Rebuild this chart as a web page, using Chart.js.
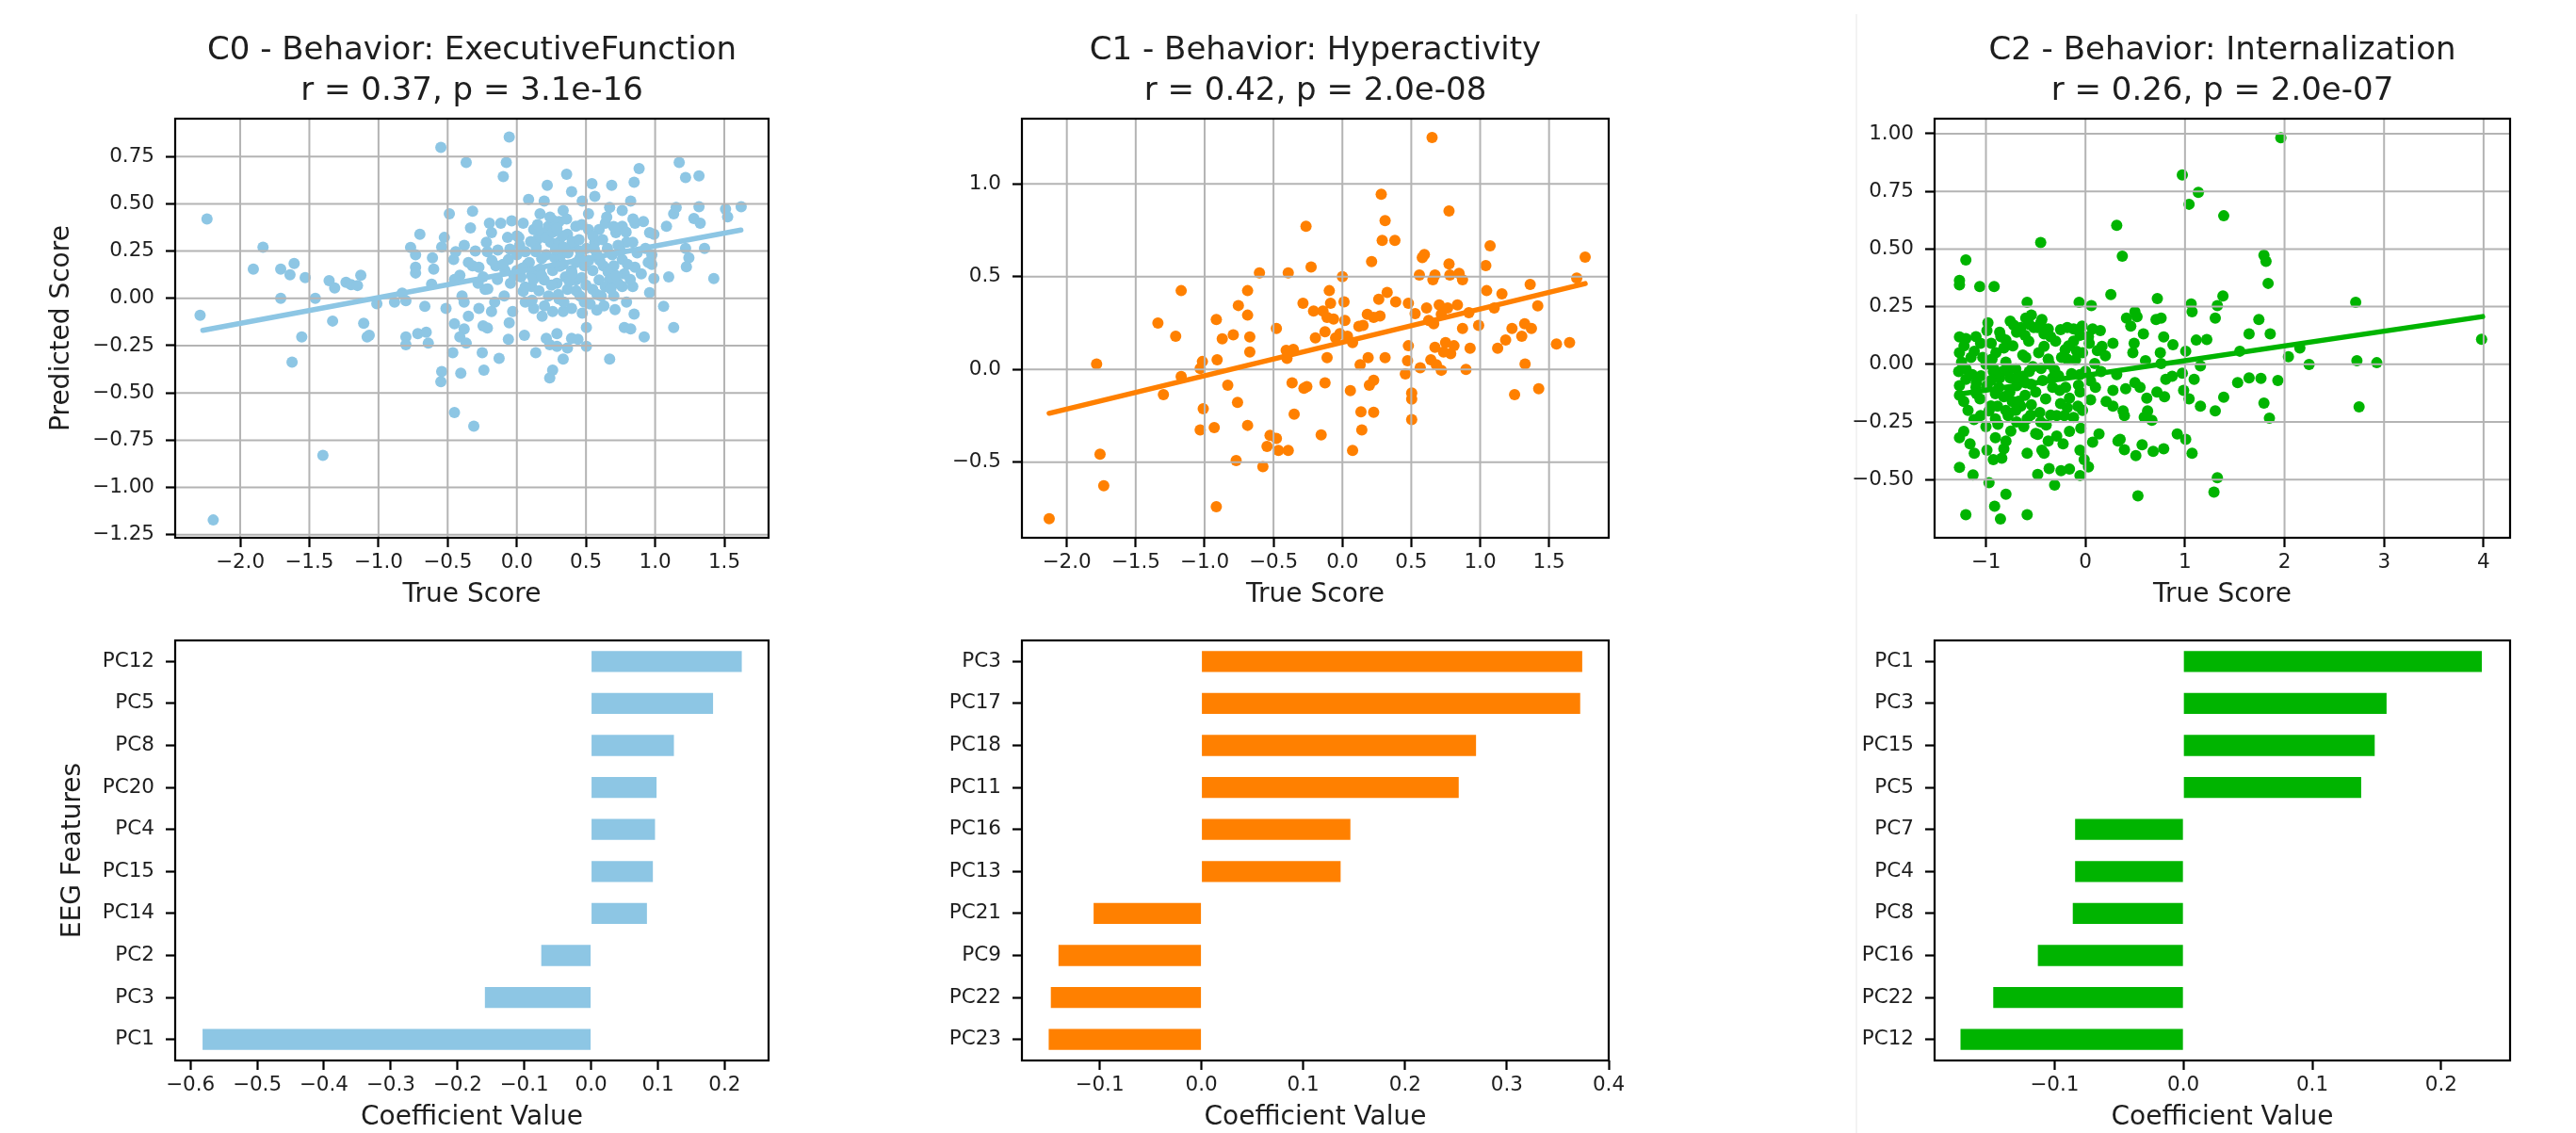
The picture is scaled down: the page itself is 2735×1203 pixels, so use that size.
<!DOCTYPE html>
<html>
<head>
<meta charset="utf-8">
<script src="https://cdn.jsdelivr.net/npm/chart.js@4.4.1/dist/chart.umd.min.js"></script>
<style>
  html, body { margin: 0; padding: 0; background: #fff; }
  body { width: 2735px; height: 1203px; position: relative; overflow: hidden; }
  canvas { position: absolute; }
  #divider { position: absolute; left: 1970px; top: 15px; width: 2px; height: 1188px; background: #f3f3f3; }
</style>
</head>
<body>
<div id="divider"></div>
<canvas id="s0"></canvas>
<canvas id="s1"></canvas>
<canvas id="s2"></canvas>
<canvas id="b0"></canvas>
<canvas id="b1"></canvas>
<canvas id="b2"></canvas>
<script>
// ---- data ----
const c0Title = ["C0 - Behavior: ExecutiveFunction", "r = 0.37, p = 3.1e-16"];
const c1Title = ["C1 - Behavior: Hyperactivity", "r = 0.42, p = 2.0e-08"];
const c2Title = ["C2 - Behavior: Internalization", "r = 0.26, p = 2.0e-07"];

// [true score, predicted score]
const c0Points = [[-2.24,0.42],[-2.29,-0.09],[-1.835,0.27],[-1.905,0.155],[-1.707,0.155],[-1.61,0.185],[-1.64,0.125],[-1.53,0.11],[-1.707,0.0],[-1.457,0.0],[-1.357,0.093],[-1.317,0.055],[-1.235,0.085],[-1.198,0.072],[-1.128,0.122],[-1.152,0.068],[-1.332,-0.12],[-1.555,-0.204],[-1.625,-0.337],[-1.402,-0.83],[-2.195,-1.172],[-1.107,-0.132],[-1.082,-0.204],[-1.067,-0.195],[-1.012,-0.028],[-0.884,-0.02],[-0.829,0.027],[-0.802,-0.012],[-0.802,-0.204],[-0.802,-0.245],[-0.716,-0.187],[-0.655,-0.179],[-0.64,-0.237],[-0.665,-0.042],[-0.768,0.269],[-0.732,0.23],[-0.732,0.164],[-0.732,0.134],[-0.701,0.339],[-0.61,0.214],[-0.601,0.155],[-0.616,0.075],[-0.524,0.322],[-0.543,0.272],[-0.512,-0.053],[-0.488,0.447],[-0.457,0.205],[-0.442,0.247],[-0.412,0.122],[-0.396,0.013],[-0.381,-0.02],[-0.451,-0.134],[-0.381,-0.162],[-0.412,-0.204],[-0.366,-0.237],[-0.35,-0.095],[-0.463,-0.287],[-0.543,-0.387],[-0.549,-0.44],[-0.405,-0.396],[-0.451,-0.604],[-0.311,-0.676],[-0.549,0.798],[-0.366,0.718],[-0.32,0.461],[-0.335,0.372],[-0.274,0.164],[-0.32,0.172],[-0.244,0.114],[-0.229,0.047],[-0.274,-0.053],[-0.183,-0.07],[-0.244,-0.145],[-0.213,-0.157],[-0.25,-0.287],[-0.238,-0.379],[-0.128,-0.317],[-0.198,0.397],[-0.183,0.347],[-0.22,0.297],[-0.213,0.247],[-0.152,0.172],[-0.137,0.255],[-0.116,0.397],[-0.098,0.644],[-0.076,0.718],[-0.055,0.853],[-0.037,0.41],[-0.067,0.322],[-0.061,0.205],[-0.085,0.147],[-0.046,0.08],[-0.091,0.013],[-0.03,-0.07],[-0.055,-0.129],[-0.061,-0.217],[0.055,-0.195],[0.137,-0.287],[0.085,0.523],[0.046,0.397],[0.015,0.322],[0.061,0.247],[0.076,0.18],[0.03,0.114],[0.107,0.063],[0.061,-0.02],[0.122,-0.053],[0.183,-0.095],[0.168,0.447],[0.198,0.514],[0.22,0.598],[0.229,0.381],[0.152,0.314],[0.244,0.297],[0.213,0.23],[0.274,0.214],[0.259,0.147],[0.198,0.097],[0.29,0.08],[0.229,0.013],[0.305,-0.003],[0.259,-0.07],[0.335,-0.07],[0.213,-0.212],[0.238,-0.245],[0.29,-0.187],[0.29,-0.254],[0.259,-0.379],[0.238,-0.421],[0.335,-0.321],[0.366,-0.262],[0.396,-0.212],[0.442,-0.217],[0.503,-0.254],[0.503,-0.154],[0.36,0.656],[0.396,0.564],[0.335,0.464],[0.305,0.406],[0.366,0.339],[0.412,0.28],[0.335,0.18],[0.396,0.147],[0.457,0.214],[0.427,0.097],[0.366,0.047],[0.457,0.013],[0.396,-0.053],[0.473,-0.078],[0.488,-0.02],[0.473,0.514],[0.543,0.606],[0.564,0.539],[0.518,0.447],[0.518,0.364],[0.564,0.297],[0.595,0.364],[0.579,0.23],[0.549,0.147],[0.595,0.097],[0.549,0.047],[0.61,0.013],[0.579,-0.062],[0.671,-0.321],[0.686,0.598],[0.671,0.481],[0.64,0.397],[0.716,0.347],[0.655,0.264],[0.701,0.172],[0.671,0.097],[0.701,0.013],[0.762,0.464],[0.762,0.381],[0.793,0.297],[0.762,0.205],[0.777,0.13],[0.762,0.063],[0.793,-0.02],[0.777,-0.154],[0.823,-0.162],[0.848,-0.083],[0.848,0.614],[0.884,0.686],[0.823,0.514],[0.854,0.397],[0.915,0.406],[0.838,0.297],[0.854,0.164],[0.838,0.063],[0.921,-0.204],[0.96,0.347],[0.991,0.339],[0.976,0.23],[0.976,0.18],[0.991,0.105],[0.96,0.03],[1.061,-0.042],[1.134,-0.154],[1.098,0.114],[1.082,0.381],[1.134,0.447],[1.152,0.481],[1.174,0.718],[1.22,0.639],[1.317,0.648],[1.317,0.484],[1.28,0.422],[1.326,0.397],[1.22,0.264],[1.244,0.214],[1.226,0.167],[1.357,0.264],[1.424,0.105],[1.509,0.472],[1.524,0.431],[1.622,0.484],[0.122,0.364],[0.183,0.347],[0.137,0.247],[0.168,0.155],[0.107,0.122],[0.305,0.297],[0.32,0.23],[0.351,0.114],[0.503,0.264],[0.488,0.172],[0.625,0.172],[0.64,0.063],[0.732,0.08],[0.732,0.28],[0.93,0.264],[0.427,0.381],[0.259,0.414],[0.0,0.23],[0.0,0.147],[0.046,0.038],[0.0,0.33],
  [0.02,0.28],[0.09,0.19],[0.14,0.27],[0.18,0.21],[0.21,0.32],[0.26,0.35],[0.28,0.26],[0.31,0.17],[0.33,0.33],[0.37,0.24],[0.4,0.3],[0.43,0.19],[0.45,0.31],[0.47,0.11],[0.52,0.2],[0.56,0.26],[0.6,0.2],[0.62,0.31],[0.66,0.14],[0.69,0.23],[0.72,0.12],[0.75,0.25],[0.8,0.18],[0.82,0.1],[0.87,0.24],[0.9,0.13],[0.06,0.06],[0.11,-0.01],[0.16,0.04],[0.2,-0.04],[0.25,0.07],[0.3,0.02],[0.34,-0.02],[0.38,0.09],[0.43,0.04],[0.5,0.07],[0.53,-0.03],[0.58,0.02],[0.63,-0.04],[0.68,0.05],[0.71,-0.06],[-0.05,0.26],[-0.1,0.18],[-0.14,0.1],[-0.18,0.2],[-0.21,0.05],[-0.16,-0.02],[-0.02,0.12],[0.04,0.16],[0.1,0.3],[0.15,0.39],[0.24,0.43],[0.29,0.37],[0.36,0.42],[0.47,0.39],[0.55,0.33],[0.65,0.43],[0.7,0.38],[0.79,0.35],[0.84,0.42],[0.95,0.19],[0.12,0.1],[0.18,0.12],[0.34,0.27],[0.4,0.13],[0.46,0.25],[-0.3,0.25],[-0.35,0.19],[-0.28,0.08],[-0.45,0.1],[-0.38,0.28]];
const c0FitX = [-2.27, 1.62];
const c0FitY = [-0.169, 0.361];

const c1Points = [[-2.128,-0.805],[-1.784,0.029],[-1.759,-0.458],[-1.732,-0.627],[-1.339,0.249],[-1.21,0.178],[-1.17,0.424],[-1.17,-0.039],[-1.299,-0.136],[-1.016,0.042],[-1.032,0.005],[-1.01,-0.212],[-1.032,-0.327],[-0.93,-0.314],[-0.915,0.268],[-0.909,0.051],[-0.915,-0.741],[-0.872,0.164],[-0.832,-0.085],[-0.792,0.186],[-0.755,0.344],[-0.761,-0.178],[-0.771,-0.492],[-0.688,0.424],[-0.688,0.292],[-0.672,0.175],[-0.672,0.093],[-0.688,-0.302],[-0.602,0.52],[-0.577,-0.525],[-0.547,-0.415],[-0.525,-0.356],[-0.479,-0.373],[-0.479,0.22],[-0.464,-0.437],[-0.393,-0.437],[-0.393,0.52],[-0.408,0.102],[-0.402,0.059],[-0.356,0.107],[-0.365,-0.073],[-0.35,-0.242],[-0.279,-0.102],[-0.258,-0.093],[-0.286,0.356],[-0.264,0.771],[-0.227,0.551],[-0.209,0.314],[-0.196,0.169],[-0.154,-0.353],[-0.141,0.314],[-0.126,0.203],[-0.126,-0.073],[-0.111,0.063],[-0.095,0.424],[-0.086,0.356],[-0.111,0.28],[-0.064,0.271],[-0.049,0.169],[-0.018,0.192],[0.0,0.5],[0.012,0.364],[0.018,0.263],[0.037,0.178],[0.058,-0.115],[0.074,-0.437],[0.074,0.144],[0.12,0.232],[0.129,0.025],[0.135,-0.229],[0.141,-0.327],[0.15,0.237],[0.181,0.297],[0.187,0.063],[0.196,-0.085],[0.212,0.581],[0.227,0.28],[0.227,-0.059],[0.227,-0.232],[0.264,0.378],[0.273,0.288],[0.282,0.944],[0.289,0.695],[0.31,0.802],[0.325,0.415],[0.31,0.063],[0.381,0.695],[0.387,0.364],[0.457,-0.025],[0.479,0.356],[0.479,0.127],[0.473,0.046],[0.503,-0.127],[0.503,-0.161],[0.503,-0.271],[0.528,0.3],[0.559,0.508],[0.565,0.008],[0.58,0.602],[0.595,0.619],[0.611,0.331],[0.626,0.263],[0.642,0.051],[0.651,1.249],[0.657,0.483],[0.672,0.508],[0.663,0.246],[0.672,0.119],[0.682,0.025],[0.703,0.347],[0.718,0.297],[0.718,-0.005],[0.734,0.093],[0.749,0.144],[0.764,0.331],[0.774,0.568],[0.774,0.853],[0.78,0.508],[0.786,0.085],[0.81,0.127],[0.835,0.347],[0.847,0.517],[0.872,0.483],[0.872,0.22],[0.897,0.0],[0.927,0.114],[0.918,0.305],[0.989,0.237],[1.041,0.559],[1.047,0.424],[1.072,0.666],[1.102,0.331],[1.127,0.114],[1.158,0.407],[1.185,0.158],[1.231,0.22],[1.25,-0.136],[1.302,0.178],[1.323,0.246],[1.326,0.029],[1.363,0.458],[1.372,0.22],[1.418,0.342],[1.425,-0.105],[1.554,0.136],[1.649,0.144],[1.701,0.492],[1.762,0.605]];
const c1FitX = [-2.128, 1.762];
const c1FitY = [-0.237, 0.462];

const c2Points = [[1.963,0.982],[0.973,0.821],[1.134,0.746],[1.041,0.694],[1.389,0.644],[0.314,0.603],[-0.45,0.528],[0.37,0.469],[1.793,0.473],[1.814,0.446],[1.835,0.351],[-1.202,0.453],[-1.266,0.364],[-1.266,0.344],[-1.062,0.337],[-0.918,0.337],[-0.586,0.269],[-0.064,0.269],[0.059,0.255],[0.255,0.303],[0.722,0.285],[1.381,0.296],[1.062,0.262],[1.071,0.228],[1.325,0.255],[1.304,0.2],[2.715,0.269],[1.742,0.194],[1.644,0.132],[1.856,0.132],[1.551,0.057],[2.039,0.033],[2.154,0.071],[2.247,-0.001],[2.727,0.016],[2.927,0.007],[3.98,0.109],[2.749,-0.184],[1.529,-0.079],[1.644,-0.059],[1.763,-0.061],[1.933,-0.07],[1.793,-0.168],[1.848,-0.233],[1.389,-0.143],[1.304,-0.202],[1.155,-0.181],[1.041,-0.15],[0.986,-0.113],[1.092,-0.065],[1.155,-0.007],[1.219,0.108],[1.113,0.105],[1.007,0.057],[0.973,-0.038],[1.325,-0.492],[1.291,-0.554],[1.071,-0.386],[1.007,-0.325],[0.922,-0.302],[0.786,-0.366],[0.68,-0.377],[0.569,-0.349],[0.506,-0.396],[0.527,-0.57],[0.391,-0.37],[0.348,-0.325],[0.327,-0.332],[0.391,-0.222],[0.378,-0.202],[0.276,-0.181],[0.208,-0.161],[0.276,-0.113],[0.314,-0.045],[0.404,-0.106],[0.497,-0.079],[0.548,-0.1],[0.616,-0.147],[0.624,-0.202],[0.59,-0.229],[0.667,-0.243],[0.718,-0.12],[0.794,-0.141],[0.807,-0.065],[0.871,-0.052],[0.76,0.003],[0.752,0.05],[0.786,0.119],[0.879,0.085],[0.709,0.194],[0.76,0.2],[0.582,0.132],[0.489,0.091],[0.412,0.2],[0.455,0.166],[0.518,0.207],[0.497,0.228],[0.476,0.05],[0.603,0.016],[0.276,0.091],[0.2,0.037],[0.166,0.078],[0.072,0.153],[0.149,0.146],[-0.034,0.166],[-0.119,0.153],[-0.183,0.16],[-0.055,0.126],[0.038,0.091],[-0.089,0.057],[-0.183,0.023],[-0.204,0.064],[0.093,0.003],[0.157,-0.031],[0.051,-0.072],[-0.055,-0.045],[-0.055,-0.12],[0.051,-0.154],[-0.076,-0.181],[-0.183,-0.188],[-0.212,-0.222],[-0.289,-0.222],[-0.161,-0.147],[-0.259,-0.113],[-0.331,-0.059],[-0.31,-0.025],[-0.446,-0.018],[-0.374,0.023],[-0.416,0.078],[-0.416,0.132],[-0.48,0.16],[-0.374,0.153],[-0.438,0.194],[-0.544,0.214],[-0.565,0.173],[-0.608,0.126],[-0.65,0.16],[-0.756,0.187],[-0.692,0.139],[-0.799,0.105],[-0.862,0.139],[-0.82,0.071],[-0.947,0.091],[-0.99,0.146],[-1.054,0.091],[-1.117,0.057],[-1.032,0.03],[-0.939,0.023],[-1.266,0.119],[-1.202,0.112],[-1.266,0.05],[-1.245,0.01],[-1.274,-0.031],[-1.202,-0.065],[-1.266,-0.093],[-1.138,-0.045],[-1.096,-0.079],[-1.266,-0.134],[-1.223,-0.161],[-1.096,-0.127],[-0.99,-0.093],[-0.926,-0.031],[-0.862,-0.059],[-0.777,-0.018],[-0.756,-0.059],[-0.692,-0.093],[-0.629,-0.052],[-0.565,-0.031],[-0.544,-0.086],[-0.607,-0.134],[-0.544,-0.175],[-0.65,-0.181],[-0.735,-0.161],[-0.82,-0.141],[-0.905,-0.127],[-0.884,-0.181],[-0.969,-0.202],[-1.054,-0.222],[-0.905,-0.236],[-0.777,-0.222],[-0.692,-0.25],[-0.586,-0.236],[-0.459,-0.209],[-0.395,-0.263],[-0.48,-0.304],[-0.374,-0.332],[-0.289,-0.311],[-0.225,-0.345],[-0.161,-0.291],[-0.047,-0.277],[-0.055,-0.372],[0.072,-0.338],[0.136,-0.302],[-1.266,-0.318],[-1.223,-0.291],[-1.16,-0.345],[-1.117,-0.386],[-0.99,-0.372],[-0.905,-0.318],[-0.82,-0.366],[-0.799,-0.332],[-0.926,-0.413],[-0.841,-0.407],[-0.586,-0.386],[-0.438,-0.372],[-0.416,-0.386],[-1.266,-0.447],[-1.13,-0.479],[-0.969,-0.513],[-0.799,-0.563],[-0.913,-0.615],[-0.854,-0.67],[-1.202,-0.652],[-0.586,-0.652],[-0.48,-0.477],[-0.365,-0.452],[-0.31,-0.523],[-0.246,-0.461],[-0.161,-0.454],[-0.055,-0.482],[0.03,-0.445],[-0.013,-0.413],
  [-1.2,-0.02],[-1.15,0.03],[-1.1,-0.1],[-1.05,-0.05],[-1.0,0.0],[-0.95,-0.07],[-0.9,0.05],[-0.87,-0.1],[-0.83,-0.03],[-0.8,0.01],[-0.76,-0.12],[-0.73,0.08],[-0.7,-0.02],[-0.67,-0.16],[-0.63,0.04],[-0.6,-0.08],[-0.57,0.1],[-0.53,-0.01],[-0.5,-0.12],[-0.47,0.05],[-0.43,-0.07],[-0.4,-0.15],[-0.36,0.0],[-0.33,-0.1],[-0.3,0.1],[-0.27,-0.05],[-0.24,0.03],[-0.2,-0.1],[-0.17,0.08],[-0.14,-0.04],[-0.1,0.02],[-0.07,-0.09],[-0.03,0.05],[0.0,-0.03],[0.03,0.12],[0.1,-0.1],[0.12,0.06],[-1.18,-0.2],[-1.12,-0.24],[-1.0,-0.27],[-0.95,-0.18],[-0.88,-0.26],[-0.8,-0.2],[-0.75,-0.29],[-0.7,-0.2],[-0.62,-0.27],[-0.55,-0.22],[-0.5,-0.3],[-0.45,-0.25],[-0.35,-0.22],[-0.25,-0.17],[-0.12,-0.23],[-0.03,-0.2],[-1.22,0.08],[-1.1,0.12],[-0.98,0.18],[-0.85,0.12],[-0.72,0.17],[-0.6,0.2],[-0.52,0.16],[-0.45,0.18],[-0.35,0.12],[-0.25,0.15],[-0.12,0.1],[-0.6,0.03],[-0.68,-0.06],[-0.92,-0.02],[-1.06,-0.15]];
const c2FitX = [-1.27, 3.99];
const c2FitY = [-0.129, 0.207];

const c0Features = ["PC12", "PC5", "PC8", "PC20", "PC4", "PC15", "PC14", "PC2", "PC3", "PC1"];
const c0Coefs = [0.2256, 0.1826, 0.124, 0.098, 0.0957, 0.0925, 0.0836, -0.0746, -0.159, -0.5817];
const c1Features = ["PC3", "PC17", "PC18", "PC11", "PC16", "PC13", "PC21", "PC9", "PC22", "PC23"];
const c1Coefs = [0.374, 0.372, 0.2697, 0.2527, 0.1463, 0.1367, -0.1059, -0.1404, -0.1479, -0.150];
const c2Features = ["PC1", "PC3", "PC15", "PC5", "PC7", "PC4", "PC8", "PC16", "PC22", "PC12"];
const c2Coefs = [0.2315, 0.1576, 0.1484, 0.1379, -0.084, -0.084, -0.0858, -0.1129, -0.1475, -0.1729];

const c0XTicks = [-2.0, -1.5, -1.0, -0.5, 0.0, 0.5, 1.0, 1.5];
const c0YTicks = [-1.25, -1.0, -0.75, -0.5, -0.25, 0.0, 0.25, 0.5, 0.75];
const c1XTicks = [-2.0, -1.5, -1.0, -0.5, 0.0, 0.5, 1.0, 1.5];
const c1YTicks = [-0.5, 0.0, 0.5, 1.0];
const c2XTicks = [-1, 0, 1, 2, 3, 4];
const c2YTicks = [-0.5, -0.25, 0.0, 0.25, 0.5, 0.75, 1.0];
const b0Ticks = [-0.6, -0.5, -0.4, -0.3, -0.2, -0.1, 0.0, 0.1, 0.2];
const b1Ticks = [-0.1, 0.0, 0.1, 0.2, 0.3, 0.4];
const b2Ticks = [-0.1, 0.0, 0.1, 0.2];

// ---- styling ----
const INK = "#1e1e1e";
const GRID = "#b4b4b4";
const BLUE = "#8dc6e4";
const ORANGE = "#ff8000";
const GREEN = "#00b400";
const XH = 78;

Chart.defaults.font.family = "DejaVu Sans";
Chart.defaults.font.size = 21.5;
Chart.defaults.color = INK;
Chart.defaults.animation = false;

function fmt(v, dec) {
  let s = Math.abs(v).toFixed(dec);
  return (v < -1e-9 ? "\u2212" : "") + s;
}

const frame = {
  id: "frame",
  afterDraw(chart) {
    const a = chart.chartArea, ctx = chart.ctx;
    ctx.save();
    ctx.strokeStyle = "#000";
    ctx.lineWidth = 2.2;
    ctx.strokeRect(a.left, a.top, a.right - a.left, a.bottom - a.top);
    ctx.restore();
  }
};

// matplotlib puts the grid over the scatter but under the fit line
const gridOver = {
  id: "gridOver",
  afterDatasetDraw(chart, args) {
    if (args.index !== 0) return;
    const a = chart.chartArea, ctx = chart.ctx;
    const sx = chart.scales.x, sy = chart.scales.y;
    ctx.save();
    ctx.strokeStyle = GRID;
    ctx.lineWidth = 2;
    ctx.beginPath();
    sx.ticks.forEach(t => {
      const p = sx.getPixelForValue(t.value);
      ctx.moveTo(p, a.top); ctx.lineTo(p, a.bottom);
    });
    sy.ticks.forEach(t => {
      const p = sy.getPixelForValue(t.value);
      ctx.moveTo(a.left, p); ctx.lineTo(a.right, p);
    });
    ctx.stroke();
    ctx.restore();
  }
};

function tickGrid() {
  return { display: true, drawOnChartArea: false, drawTicks: true, tickLength: 10, tickWidth: 2.2, tickColor: "#000" };
}

function scatterChart(id, box, o) {
  const cv = document.getElementById(id);
  cv.width = box.yw + (box.r - box.l) + 30;
  cv.height = box.b + XH;
  cv.style.left = (box.l - box.yw) + "px";
  cv.style.top = "0px";
  new Chart(cv, {
    type: "scatter",
    data: {
      datasets: [
        { data: o.points.map(p => ({ x: p[0], y: p[1] })), backgroundColor: o.color,
          pointRadius: 6, pointBorderWidth: 0, pointHoverRadius: 6, order: 1 },
        { data: o.fitX.map((x, i) => ({ x: x, y: o.fitY[i] })), showLine: true, borderColor: o.color,
          borderWidth: 5.5, borderCapStyle: "round", pointRadius: 0, fill: false, order: 0 }
      ]
    },
    options: {
      responsive: false,
      events: [],
      layout: { padding: { left: 0, right: 30, top: 0, bottom: 0 } },
      plugins: {
        legend: { display: false },
        tooltip: { enabled: false },
        title: { display: true, text: o.title, fullSize: false, color: INK,
                 font: { size: 34, weight: "normal", lineHeight: 1.265 },
                 padding: { top: 32.5, bottom: 7.5 } }
      },
      scales: {
        x: {
          type: "linear", min: o.xr[0], max: o.xr[1],
          afterBuildTicks: s => { s.ticks = o.xTicks.map(v => ({ value: v })); },
          afterFit: s => { s.height = XH; },
          ticks: { autoSkip: false, maxRotation: 0, padding: 4, callback: v => fmt(v, o.xDec) },
          grid: tickGrid(),
          border: { display: false },
          title: { display: true, text: "True Score", font: { size: 28 }, padding: { top: 0, bottom: 0 } }
        },
        y: {
          type: "linear", min: o.yr[0], max: o.yr[1],
          afterBuildTicks: s => { s.ticks = o.yTicks.map(v => ({ value: v })); },
          afterFit: s => { s.width = box.yw; },
          ticks: { autoSkip: false, padding: 12, callback: v => fmt(v, o.yDec) },
          grid: tickGrid(),
          border: { display: false },
          title: { display: !!o.yTitle, text: o.yTitle || "", font: { size: 28 }, padding: { top: 0, bottom: 0 } }
        }
      }
    },
    plugins: [gridOver, frame]
  });
}

function barChart(id, box, o) {
  const cv = document.getElementById(id);
  cv.width = box.yw + (box.r - box.l) + 30;
  cv.height = 30 + (box.b - box.t) + XH;
  cv.style.left = (box.l - box.yw) + "px";
  cv.style.top = (box.t - 30) + "px";
  new Chart(cv, {
    type: "bar",
    data: {
      labels: o.labels,
      datasets: [{ data: o.values, backgroundColor: o.color, borderWidth: 0,
                   barPercentage: 0.5, categoryPercentage: 1.0 }]
    },
    options: {
      indexAxis: "y",
      responsive: false,
      events: [],
      layout: { padding: { left: 0, right: 30, top: 30, bottom: 0 } },
      plugins: { legend: { display: false }, tooltip: { enabled: false } },
      scales: {
        x: {
          type: "linear", min: o.xr[0], max: o.xr[1],
          afterBuildTicks: s => { s.ticks = o.ticks.map(v => ({ value: v })); },
          afterFit: s => { s.height = XH; },
          ticks: { autoSkip: false, maxRotation: 0, padding: 4, callback: v => fmt(v, 1) },
          grid: tickGrid(),
          border: { display: false },
          title: { display: true, text: "Coefficient Value", font: { size: 28 }, padding: { top: 0, bottom: 0 } }
        },
        y: {
          type: "category", offset: true,
          afterFit: s => { s.width = box.yw; },
          ticks: { autoSkip: false, padding: 12 },
          grid: Object.assign(tickGrid(), { offset: false }),
          border: { display: false },
          title: { display: !!o.yTitle, text: o.yTitle || "", font: { size: 28 }, padding: { top: o.yTitlePad || 0, bottom: 0 } }
        }
      }
    },
    plugins: [frame]
  });
}

// ---- layout (page pixels) ----
const topRow = { t: 126, b: 571 };
const botRow = { t: 680, b: 1126 };
const cols = [{ l: 186, r: 816 }, { l: 1085, r: 1708 }, { l: 2054, r: 2665 }];
const YW = 137;

scatterChart("s0", { l: cols[0].l, r: cols[0].r, b: topRow.b, yw: YW }, {
  points: c0Points, fitX: c0FitX, fitY: c0FitY, color: BLUE, title: c0Title,
  xTicks: c0XTicks, yTicks: c0YTicks, xDec: 1, yDec: 2,
  xr: [-2.47, 1.82], yr: [-1.266, 0.95], yTitle: "Predicted Score"
});
scatterChart("s1", { l: cols[1].l, r: cols[1].r, b: topRow.b, yw: YW }, {
  points: c1Points, fitX: c1FitX, fitY: c1FitY, color: ORANGE, title: c1Title,
  xTicks: c1XTicks, yTicks: c1YTicks, xDec: 1, yDec: 1,
  xr: [-2.326, 1.933], yr: [-0.908, 1.351]
});
scatterChart("s2", { l: cols[2].l, r: cols[2].r, b: topRow.b, yw: YW }, {
  points: c2Points, fitX: c2FitX, fitY: c2FitY, color: GREEN, title: c2Title,
  xTicks: c2XTicks, yTicks: c2YTicks, xDec: 0, yDec: 2,
  xr: [-1.516, 4.266], yr: [-0.752, 1.065]
});

barChart("b0", { l: cols[0].l, r: cols[0].r, t: botRow.t, b: botRow.b, yw: YW }, {
  labels: c0Features, values: c0Coefs, color: BLUE, ticks: b0Ticks,
  xr: [-0.6227, 0.2657], yTitle: "EEG Features", yTitlePad: 12
});
barChart("b1", { l: cols[1].l, r: cols[1].r, t: botRow.t, b: botRow.b, yw: YW }, {
  labels: c1Features, values: c1Coefs, color: ORANGE, ticks: b1Ticks,
  xr: [-0.1763, 0.4]
});
barChart("b2", { l: cols[2].l, r: cols[2].r, t: botRow.t, b: botRow.b, yw: YW }, {
  labels: c2Features, values: c2Coefs, color: GREEN, ticks: b2Ticks,
  xr: [-0.193, 0.2534]
});
</script>
</body>
</html>
